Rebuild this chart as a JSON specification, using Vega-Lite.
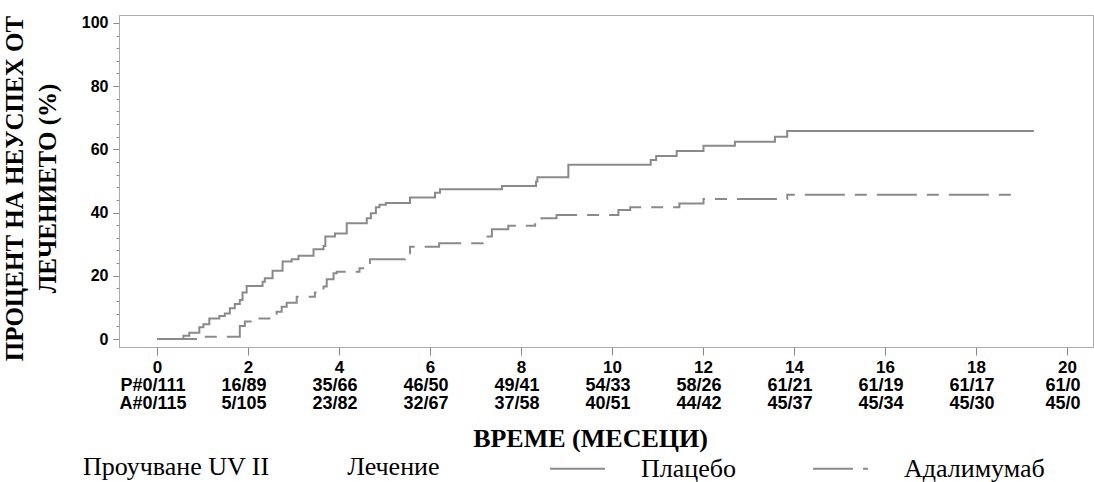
{
  "$schema": "https://vega.github.io/schema/vega-lite/v6.json",
  "autosize": {"type": "none"},
  "padding": {"left": 119, "top": 15, "right": 1, "bottom": 135},
  "width": 974,
  "height": 332,
  "background": "white",
  "datasets": {
    "curves": [
      {"arm": "Плацебо", "t": 0, "pct": 0},
      {"arm": "Плацебо", "t": 0.58, "pct": 1.0},
      {"arm": "Плацебо", "t": 0.71, "pct": 2.0},
      {"arm": "Плацебо", "t": 0.93, "pct": 3.7},
      {"arm": "Плацебо", "t": 1.02, "pct": 4.7},
      {"arm": "Плацебо", "t": 1.15, "pct": 6.5},
      {"arm": "Плацебо", "t": 1.37, "pct": 7.3},
      {"arm": "Плацебо", "t": 1.49, "pct": 8.1},
      {"arm": "Плацебо", "t": 1.60, "pct": 9.7},
      {"arm": "Плацебо", "t": 1.71, "pct": 11.1},
      {"arm": "Плацебо", "t": 1.82, "pct": 12.3},
      {"arm": "Плацебо", "t": 1.88, "pct": 14.7},
      {"arm": "Плацебо", "t": 1.97, "pct": 16.8},
      {"arm": "Плацебо", "t": 2.32, "pct": 18.1},
      {"arm": "Плацебо", "t": 2.37, "pct": 19.2},
      {"arm": "Плацебо", "t": 2.54, "pct": 21.6},
      {"arm": "Плацебо", "t": 2.76, "pct": 24.5},
      {"arm": "Плацебо", "t": 2.96, "pct": 25.2},
      {"arm": "Плацебо", "t": 3.11, "pct": 26.3},
      {"arm": "Плацебо", "t": 3.44, "pct": 28.4},
      {"arm": "Плацебо", "t": 3.66, "pct": 29.4},
      {"arm": "Плацебо", "t": 3.70, "pct": 32.4},
      {"arm": "Плацебо", "t": 3.91, "pct": 33.4},
      {"arm": "Плацебо", "t": 4.17, "pct": 36.6},
      {"arm": "Плацебо", "t": 4.61, "pct": 38.2},
      {"arm": "Плацебо", "t": 4.70, "pct": 39.8},
      {"arm": "Плацебо", "t": 4.81, "pct": 41.7},
      {"arm": "Плацебо", "t": 4.89, "pct": 42.5},
      {"arm": "Плацебо", "t": 5.03, "pct": 43.0},
      {"arm": "Плацебо", "t": 5.56, "pct": 44.8},
      {"arm": "Плацебо", "t": 6.11, "pct": 46.3},
      {"arm": "Плацебо", "t": 6.22, "pct": 47.4},
      {"arm": "Плацебо", "t": 7.58, "pct": 48.4},
      {"arm": "Плацебо", "t": 8.33, "pct": 49.8},
      {"arm": "Плацебо", "t": 8.36, "pct": 51.2},
      {"arm": "Плацебо", "t": 9.04, "pct": 55.1},
      {"arm": "Плацебо", "t": 10.85, "pct": 56.6},
      {"arm": "Плацебо", "t": 10.97, "pct": 57.9},
      {"arm": "Плацебо", "t": 11.42, "pct": 59.5},
      {"arm": "Плацебо", "t": 12.01, "pct": 61.1},
      {"arm": "Плацебо", "t": 12.70, "pct": 62.4},
      {"arm": "Плацебо", "t": 13.58, "pct": 64.0},
      {"arm": "Плацебо", "t": 13.85, "pct": 65.8},
      {"arm": "Плацебо", "t": 19.27, "pct": 65.8},
      {"arm": "Адалимумаб", "t": 0, "pct": 0},
      {"arm": "Адалимумаб", "t": 0.93, "pct": 0.7},
      {"arm": "Адалимумаб", "t": 1.82, "pct": 4.1},
      {"arm": "Адалимумаб", "t": 1.93, "pct": 5.5},
      {"arm": "Адалимумаб", "t": 2.19, "pct": 6.5},
      {"arm": "Адалимумаб", "t": 2.63, "pct": 8.6},
      {"arm": "Адалимумаб", "t": 2.74, "pct": 10.2},
      {"arm": "Адалимумаб", "t": 2.85, "pct": 11.5},
      {"arm": "Адалимумаб", "t": 3.07, "pct": 13.4},
      {"arm": "Адалимумаб", "t": 3.47, "pct": 14.7},
      {"arm": "Адалимумаб", "t": 3.66, "pct": 16.6},
      {"arm": "Адалимумаб", "t": 3.73, "pct": 18.9},
      {"arm": "Адалимумаб", "t": 3.88, "pct": 20.8},
      {"arm": "Адалимумаб", "t": 3.95, "pct": 21.3},
      {"arm": "Адалимумаб", "t": 4.45, "pct": 22.4},
      {"arm": "Адалимумаб", "t": 4.62, "pct": 23.5},
      {"arm": "Адалимумаб", "t": 4.68, "pct": 25.2},
      {"arm": "Адалимумаб", "t": 5.45, "pct": 27.1},
      {"arm": "Адалимумаб", "t": 5.56, "pct": 29.2},
      {"arm": "Адалимумаб", "t": 6.2, "pct": 30.3},
      {"arm": "Адалимумаб", "t": 7.16, "pct": 32.4},
      {"arm": "Адалимумаб", "t": 7.36, "pct": 34.7},
      {"arm": "Адалимумаб", "t": 7.72, "pct": 35.8},
      {"arm": "Адалимумаб", "t": 8.31, "pct": 37.1},
      {"arm": "Адалимумаб", "t": 8.45, "pct": 38.2},
      {"arm": "Адалимумаб", "t": 8.78, "pct": 39.2},
      {"arm": "Адалимумаб", "t": 10.14, "pct": 40.8},
      {"arm": "Адалимумаб", "t": 10.4, "pct": 41.7},
      {"arm": "Адалимумаб", "t": 11.48, "pct": 42.9},
      {"arm": "Адалимумаб", "t": 12.01, "pct": 44.3},
      {"arm": "Адалимумаб", "t": 13.85, "pct": 45.6},
      {"arm": "Адалимумаб", "t": 18.93, "pct": 45.6}
    ],
    "risk": [
      {"row": "P", "t": 0, "label": "P#0/111"},
      {"row": "P", "t": 2, "label": "16/89"},
      {"row": "P", "t": 4, "label": "35/66"},
      {"row": "P", "t": 6, "label": "46/50"},
      {"row": "P", "t": 8, "label": "49/41"},
      {"row": "P", "t": 10, "label": "54/33"},
      {"row": "P", "t": 12, "label": "58/26"},
      {"row": "P", "t": 14, "label": "61/21"},
      {"row": "P", "t": 16, "label": "61/19"},
      {"row": "P", "t": 18, "label": "61/17"},
      {"row": "P", "t": 20, "label": "61/0"},
      {"row": "A", "t": 0, "label": "A#0/115"},
      {"row": "A", "t": 2, "label": "5/105"},
      {"row": "A", "t": 4, "label": "23/82"},
      {"row": "A", "t": 6, "label": "32/67"},
      {"row": "A", "t": 8, "label": "37/58"},
      {"row": "A", "t": 10, "label": "40/51"},
      {"row": "A", "t": 12, "label": "44/42"},
      {"row": "A", "t": 14, "label": "45/37"},
      {"row": "A", "t": 16, "label": "45/34"},
      {"row": "A", "t": 18, "label": "45/30"},
      {"row": "A", "t": 20, "label": "45/0"}
    ]
  },
  "layer": [
    {
      "data": {"name": "curves"},
      "mark": {"type": "line", "interpolate": "step-after", "strokeWidth": 2},
      "encoding": {
        "x": {
          "field": "t", "type": "quantitative",
          "scale": {"domain": [-0.835, 20.57], "nice": false, "zero": false},
          "axis": {
            "title": "ВРЕМЕ (МЕСЕЦИ)",
            "values": [0, 2, 4, 6, 8, 10, 12, 14, 16, 18, 20],
            "tickSize": 8, "tickColor": "#888888", "domainColor": "#aaaaaa",
            "labelFont": "Liberation Sans", "labelFontWeight": "bold", "labelFontSize": 17,
            "labelColor": "black", "labelPadding": 4, "grid": false, "labelFlush": false,
            "titleFont": "Liberation Serif", "titleFontSize": 26, "titleFontWeight": "bold",
            "titleColor": "black", "titlePadding": 50, "titleX": 471
          }
        },
        "y": {
          "field": "pct", "type": "quantitative",
          "scale": {"domain": [-2.53, 102.5], "nice": false, "zero": false},
          "axis": {
            "title": ["ПРОЦЕНТ НА НЕУСПЕХ ОТ", "ЛЕЧЕНИЕТО (%)"],
            "values": [0, 4, 8, 12, 16, 20, 24, 28, 32, 36, 40, 44, 48, 52, 56, 60, 64, 68, 72, 76, 80, 84, 88, 92, 96, 100],
            "labelExpr": "datum.value % 20 === 0 ? datum.label : ''",
            "tickSize": {"condition": {"test": "datum.value % 20 === 0", "value": 6}, "value": 3},
            "tickColor": "#888888", "domainColor": "#aaaaaa",
            "labelFont": "Liberation Sans", "labelFontWeight": "bold", "labelFontSize": 16,
            "labelColor": "black", "labelPadding": 5, "labelOverlap": false, "grid": false,
            "titleFont": "Liberation Serif", "titleFontSize": 25, "titleFontWeight": "bold",
            "titleColor": "black", "titleAngle": 270, "titleX": -104.5, "titleY": 173,
            "titleAlign": "center", "titleBaseline": "middle", "titleLineHeight": 33
          }
        },
        "color": {
          "field": "arm", "type": "nominal",
          "scale": {"domain": ["Плацебо", "Адалимумаб"], "range": ["#8a8a8a", "#8a8a8a"]},
          "legend": {"title": "Проучване UV II\u00a0\u00a0\u00a0\u00a0\u00a0\u00a0\u00a0\u00a0\u00a0\u00a0\u00a0\u00a0Лечение", "orient": "none", "legendX": -36, "legendY": 425}
        },
        "strokeDash": {
          "field": "arm", "type": "nominal",
          "scale": {"domain": ["Плацебо", "Адалимумаб"], "range": [[1, 0], [40, 10, 12, 10]]},
          "legend": {"title": "Проучване UV II\u00a0\u00a0\u00a0\u00a0\u00a0\u00a0\u00a0\u00a0\u00a0\u00a0\u00a0\u00a0Лечение", "orient": "none", "legendX": -36, "legendY": 425}
        }
      }
    },
    {
      "data": {"name": "risk"},
      "mark": {"type": "text", "font": "Liberation Sans", "fontWeight": "bold", "fontSize": 18, "dx": -4, "color": "black"},
      "encoding": {
        "x": {
          "field": "t", "type": "quantitative",
          "scale": {"domain": [-0.835, 20.57], "nice": false, "zero": false}
        },
        "y": {
          "field": "row", "type": "nominal", "sort": ["P", "A"],
          "scale": {"type": "point", "domain": ["P", "A"], "range": [371, 389], "padding": 0},
          "axis": null
        },
        "text": {"field": "label"}
      }
    }
  ],
  "resolve": {"scale": {"y": "independent"}, "axis": {"y": "independent"}},
  "config": {
    "view": {"stroke": "#aaaaaa"},
    "legend": {
      "symbolType": "stroke", "symbolSize": 3025, "symbolStrokeWidth": 2,
      "labelFont": "Liberation Serif", "labelFontSize": 26, "labelColor": "black", "labelOffset": 35, "labelLimit": 400,
      "columnPadding": 73, "columns": 2, "direction": "horizontal",
      "titleFont": "Liberation Serif", "titleFontSize": 26, "titleFontWeight": "normal", "titleColor": "black",
      "titleOrient": "left", "titleAnchor": "middle", "titleBaseline": "line-top", "titleLineHeight": 12,
      "titlePadding": 109, "titleLimit": 600
    }
  }
}
